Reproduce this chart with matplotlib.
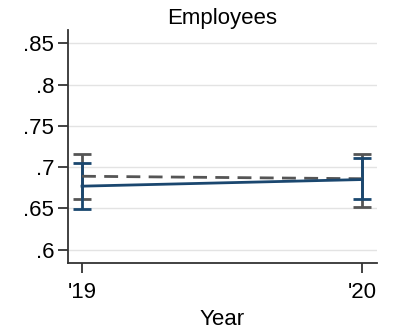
import matplotlib
matplotlib.use("Agg")
import matplotlib.pyplot as plt

plt.rcParams['font.family'] = ['Liberation Sans', 'DejaVu Sans']

years = [2019, 2020]
year_labels = ["'19", "'20"]

# solid series (navy) with 95% CI
navy_mean = [0.677, 0.685]
navy_lo = [0.649, 0.661]
navy_hi = [0.705, 0.7105]

# dashed series (gray) with 95% CI
gray_mean = [0.689, 0.686]
gray_lo = [0.661, 0.652]
gray_hi = [0.716, 0.716]

yticks = [0.6, 0.65, 0.7, 0.75, 0.8, 0.85]
ytick_labels = ['.6', '.65', '.7', '.75', '.8', '.85']

navy = '#1a476f'
gray = '#555555'

fig = plt.figure(figsize=(3.93, 3.34), dpi=100)
ax = fig.add_axes([68 / 393, 1 - 263 / 334, 309 / 393, 233 / 334])

for mean, lo, hi, col, ls in [(gray_mean, gray_lo, gray_hi, gray, (0, (5, 3))),
                              (navy_mean, navy_lo, navy_hi, navy, '-')]:
    err = [[m - l for m, l in zip(mean, lo)], [h - m for m, h in zip(mean, hi)]]
    ax.errorbar(years, mean, yerr=err, color=col, ecolor=col, elinewidth=2,
                capsize=6.5, capthick=2, lw=2, linestyle=ls, zorder=3)

ax.set_xlim(2018.95, 2020.054)
ax.set_ylim(0.584, 0.866)
ax.set_yticks(yticks)
ax.set_yticklabels(ytick_labels)
ax.set_xticks(years)
ax.set_xticklabels(year_labels)
ax.yaxis.grid(True, color='#e3e3e3', lw=1)
ax.set_axisbelow(True)

for s in ['top', 'right']:
    ax.spines[s].set_visible(False)
for s in ['left', 'bottom']:
    ax.spines[s].set_color('#333333')
    ax.spines[s].set_linewidth(1.3)
ax.tick_params(axis='both', colors='#333333', labelcolor='black', labelsize=16,
               length=7, width=1.3)
ax.tick_params(axis='y', pad=3)
ax.tick_params(axis='x', pad=7)

ax.set_title('Employees', fontsize=16, pad=4)
ax.set_xlabel('Year', fontsize=16, labelpad=4)

fig.savefig('out.png', dpi=100)
